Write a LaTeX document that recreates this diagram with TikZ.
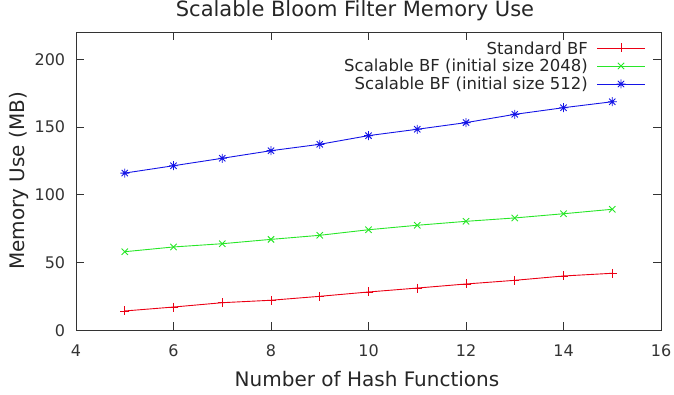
\documentclass[tikz,border=0pt]{standalone}
\usepackage{fontspec}
\setmainfont{DejaVu Sans}
\usetikzlibrary{positioning, plotmarks}

\pgfdeclareplotmark{gstar}{%
  \pgfpathmoveto{\pgfqpoint{-\pgfplotmarksize}{0pt}}\pgfpathlineto{\pgfqpoint{\pgfplotmarksize}{0pt}}%
  \pgfpathmoveto{\pgfqpoint{0pt}{-\pgfplotmarksize}}\pgfpathlineto{\pgfqpoint{0pt}{\pgfplotmarksize}}%
  \pgfpathmoveto{\pgfqpoint{-.7\pgfplotmarksize}{-.7\pgfplotmarksize}}\pgfpathlineto{\pgfqpoint{.7\pgfplotmarksize}{.7\pgfplotmarksize}}%
  \pgfpathmoveto{\pgfqpoint{-.7\pgfplotmarksize}{.7\pgfplotmarksize}}\pgfpathlineto{\pgfqpoint{.7\pgfplotmarksize}{-.7\pgfplotmarksize}}%
  \pgfusepathqstroke}

\definecolor{gpred}{RGB}{235,0,20}
\definecolor{gpgreen}{RGB}{40,230,40}
\definecolor{gpblue}{RGB}{20,20,230}

\tikzset{
  ticklabel/.style={font=\fontsize{16}{16}\selectfont, text=black!80},
  axislabel/.style={font=\fontsize{20}{20}\selectfont, text=black!85},
  keylabel/.style={font=\fontsize{16.5}{17}\selectfont, text=black!85, anchor=east, inner sep=0pt},
  series/.style={line width=0.9pt, mark size=4.5pt, mark options={solid, line width=0.9pt}},
}

\begin{document}
\begin{tikzpicture}[x=1pt, y=1pt]
  \useasboundingbox (0,0) rectangle (674,395);

  \node[axislabel, font=\fontsize{21}{21}\selectfont] (title) at (355,384) {Scalable Bloom Filter Memory Use};
  \node[axislabel] (x label) at (367,16) {Number of Hash Functions};
  \node[axislabel, rotate=90] (y label) at (19,214) {Memory Use (MB)};

  \begin{scope}[x=48.75pt, y=1.356pt, shift={(-119pt,64.5pt)}]
    \draw[line width=0.8pt, black!80] (4,0) rectangle (16,220);

    \foreach \xv in {4,6,...,16} {
      \draw[line width=0.8pt, black!80] (\xv,0) -- ++(0,8pt) (\xv,220) -- ++(0,-8pt);
      \node[ticklabel] (xtick \xv) at (\xv,-15) {\xv};
    }
    \foreach \yv in {0,50,...,200} {
      \draw[line width=0.8pt, black!80] (4,\yv) -- ++(8pt,0) (16,\yv) -- ++(-8pt,0);
      \node[ticklabel, anchor=east] (ytick \yv) at (3.85,\yv) {\yv};
    }

    \draw[series, gpred] plot[mark=+] coordinates {
      (5,14.4) (6,17.3) (7,20.5) (8,22.3) (9,25.2) (10,28.4)
      (11,31.3) (12,34.3) (13,37) (14,40.2) (15,42.2)};
    \draw[series, gpgreen] plot[mark=x] coordinates {
      (5,58.1) (6,61.6) (7,64) (8,67.2) (9,70.2) (10,74.3)
      (11,77.6) (12,80.5) (13,83) (14,86.1) (15,89.4)};
    \draw[series, gpblue] plot[mark=gstar] coordinates {
      (5,116.1) (6,121.5) (7,127) (8,132.6) (9,137.3) (10,143.7)
      (11,148.4) (12,153.3) (13,159.4) (14,164.3) (15,168.7)};
  \end{scope}

  % key
  \node[keylabel] (key std) at (588,347) {Standard BF};
  \node[keylabel] (key 2048) at (588,329) {Scalable BF (initial size 2048)};
  \node[keylabel] (key 512) at (588,311) {Scalable BF (initial size 512)};
  \foreach \k/\c/\m in {std/gpred/+, 2048/gpgreen/x, 512/gpblue/gstar} {
    \coordinate[right=9pt of key \k.east] (\k a);
    \coordinate[right=33pt of key \k.east] (\k m);
    \coordinate[right=57pt of key \k.east] (\k b);
    \draw[series, \c] (\k a) -- (\k b);
    \draw[series, \c] plot[mark=\m] coordinates {(\k m)};
  }
\end{tikzpicture}
\end{document}
